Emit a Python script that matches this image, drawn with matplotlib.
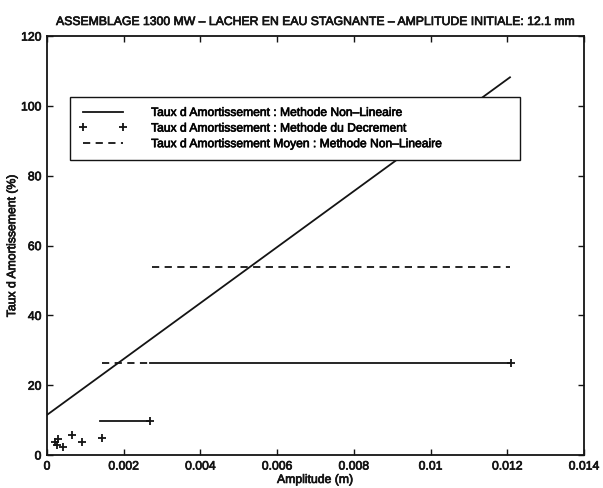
"""
Damping rate vs amplitude chart (assemblage 1300 MW, free release in still water).
"""

import matplotlib
matplotlib.use("Agg")
import matplotlib.pyplot as plt
import matplotlib.patheffects as pe
from matplotlib.lines import Line2D

# --- Data ---
# Non-linear method: straight fit over the whole amplitude range
nl_amp = [0.0, 0.01207]
nl_rate = [11.5, 108.2]

# Non-linear method: rate per amplitude band (solid segments)
band_lo_amp = [0.00138, 0.00268]
band_lo_rate = [9.6, 9.6]
band_hi_amp = [0.00268, 0.01210]
band_hi_rate = [26.5, 26.5]

# Decrement method points
dec_amp = [0.000209, 0.000253, 0.000295, 0.000425, 0.000644, 0.000905, 0.001426, 0.00268, 0.01210]
dec_rate = [3.8, 2.9, 4.5, 2.4, 5.7, 3.8, 4.8, 9.6, 26.5]

# Mean non-linear rate per band (dashed)
mean_lo_amp = [0.00143, 0.00268]
mean_lo_rate = [26.5, 26.5]
mean_hi_amp = [0.00273, 0.01207]
mean_hi_rate = [54.0, 54.0]

x_ticks = [0, 0.002, 0.004, 0.006, 0.008, 0.01, 0.012, 0.014]
x_tick_labels = ["0", "0.002", "0.004", "0.006", "0.008", "0.01", "0.012", "0.014"]
y_ticks = [0, 20, 40, 60, 80, 100, 120]

legend_labels = [
    "Taux d Amortissement : Methode Non\u2013Lineaire",
    "Taux d Amortissement : Methode du Decrement",
    "Taux d Amortissement Moyen : Methode Non\u2013Lineaire",
]

plt.rcParams["font.family"] = ["Liberation Sans", "DejaVu Sans"]

ink = "#141414"
# slight stroke so the text looks as heavy as in the scanned original
heavy = [pe.withStroke(linewidth=0.5, foreground=ink)]

fig = plt.figure(figsize=(6.03, 4.88), dpi=100)
ax = fig.add_axes([0.078, 0.0676, 0.8905, 0.8584])

ax.plot(nl_amp, nl_rate, color=ink, linewidth=1.3)
ax.plot(band_lo_amp, band_lo_rate, color=ink, linewidth=1.3)
ax.plot(band_hi_amp, band_hi_rate, color=ink, linewidth=1.3)
ax.plot(dec_amp, dec_rate, linestyle="none", marker="+", color=ink,
        markersize=6, markeredgewidth=1.3)
ax.plot(mean_lo_amp, mean_lo_rate, color=ink, linewidth=1.3, linestyle=(0, (4, 3)))
ax.plot(mean_hi_amp, mean_hi_rate, color=ink, linewidth=1.3, linestyle=(0, (4, 3)))

ax.set_xlim(0, 0.014)
ax.set_ylim(0, 120)
ax.set_xticks(x_ticks)
ax.set_xticklabels(x_tick_labels)
ax.set_yticks(y_ticks)
ax.tick_params(direction="in", length=4, width=1, labelsize=8.8,
               top=True, right=True, colors=ink, pad=4)
for sp in ax.spines.values():
    sp.set_linewidth(1.3)
    sp.set_color(ink)

ax.set_title("ASSEMBLAGE 1300 MW \u2013 LACHER EN EAU STAGNANTE \u2013 AMPLITUDE INITIALE: 12.1 mm",
             fontsize=8.8, pad=8, color=ink)
ax.set_xlabel("Amplitude (m)", fontsize=8.8, labelpad=1, color=ink)
ax.set_ylabel("Taux d Amortissement (%)", fontsize=8.8, labelpad=2, color=ink)

handles = [
    Line2D([], [], color=ink, linewidth=1.3),
    Line2D([], [], color=ink, linestyle="none", marker="+", markersize=6, markeredgewidth=1.3),
    Line2D([], [], color=ink, linewidth=1.3, linestyle=(0, (4, 3))),
]
leg = ax.legend(handles, legend_labels, loc="upper left",
                bbox_to_anchor=(0.043, 0.711, 0.838, 0.143), mode="expand",
                borderaxespad=0, fontsize=8.7, numpoints=2, handlelength=3.9,
                handletextpad=2.0, labelspacing=0.3, borderpad=0.8,
                fancybox=False, edgecolor=ink, framealpha=1)
leg.get_frame().set_linewidth(1.0)

texts = [ax.title, ax.xaxis.label, ax.yaxis.label] + leg.get_texts()
texts += ax.get_xticklabels() + ax.get_yticklabels()
for t in texts:
    t.set_path_effects(heavy)

fig.savefig("out.png", dpi=100)
